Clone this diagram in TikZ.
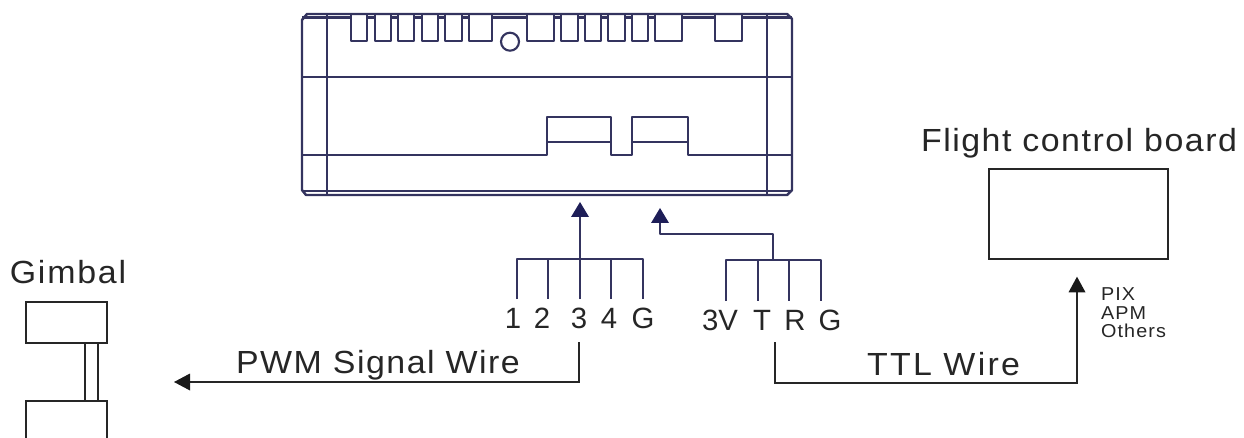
\documentclass[tikz,border=0pt]{standalone}
\usepackage{fontspec}
\setmainfont{Liberation Sans}
\newfontfamily\wideA[FakeStretch=1.06,LetterSpace=4.7]{Liberation Sans}
\newfontfamily\wideB[FakeStretch=1.06,LetterSpace=5.6]{Liberation Sans}
\newfontfamily\wideC[FakeStretch=1.06,LetterSpace=7]{Liberation Sans}
\newfontfamily\wideS[FakeStretch=1.06,LetterSpace=6]{Liberation Sans}
\definecolor{dev}{HTML}{34345F}
\definecolor{tipc}{HTML}{1E1E58}
\tikzset{x=0.75pt,y=-0.75pt,
 devl/.style={draw=dev,line width=1.85pt,line join=round},
 blk/.style={draw=black!85,line width=1.6pt,line join=miter},
 lab/.style={anchor=base,inner sep=0pt,outer sep=0pt,text=black!85},
 tiptri/.style={fill=tipc,draw=none}}
\begin{document}
\begin{tikzpicture}
\useasboundingbox (0,0) rectangle (1244,438);
% device outline
\draw[devl] (302,20) -- (302,190) -- (306,195) -- (787,195) -- (792,190) -- (792,19) -- (787,14) -- (307,14) -- cycle;
\draw[devl] (302,17.5) -- (351,17.5) (367,17.5) -- (375,17.5) (391,17.5) -- (398,17.5) (414,17.5) -- (422,17.5) (438,17.5) -- (445,17.5) (462,17.5) -- (469,17.5)
 (492,17.5) -- (527,17.5) (554,17.5) -- (561,17.5) (578,17.5) -- (585,17.5) (601,17.5) -- (608,17.5) (625,17.5) -- (632,17.5) (648,17.5) -- (655,17.5) (682,17.5) -- (715,17.5) (742,17.5) -- (792,17.5);
\draw[devl] (302,191) -- (792,191);
\draw[devl] (327,14) -- (327,195) (767,14) -- (767,195);
\draw[devl] (302,77) -- (792,77);
% teeth
\foreach \a/\b in {351/367,375/391,398/414,422/438,445/462,469/492,527/554,561/578,585/601,608/625,632/648,655/682,715/742}
  \draw[devl] (\a,14) -- (\a,41) -- (\b,41) -- (\b,14);
\node[circle,draw=dev,line width=1.6pt,minimum size=13.5pt,inner sep=0pt] (hole) at (510,41.7) {};
% lower profile
\draw[devl] (302,155) -- (547,155) -- (547,117) -- (611,117) -- (611,155) -- (632,155) -- (632,117) -- (688,117) -- (688,155) -- (792,155);
\draw[devl] (547,142) -- (611,142) (632,142) -- (688,142);
% PWM bus
\coordinate (b1) at (517,259); \coordinate (b5) at (643,259);
\draw[devl] (517,299) -- (b1) -- (b5) -- (643,299);
\draw[devl] (548,259) -- (548,299) (611,259) -- (611,299);
\coordinate (tipA) at (580,202);
\draw[devl] (580,299) -- (580,216);
\fill[tiptri] (tipA) -- (589,217) -- (571,217) -- cycle;
% TTL bus
\draw[devl] (726,301) -- (726,260) -- (821,260) -- (821,301);
\draw[devl] (758,260) -- (758,301) (789,260) -- (789,301);
\coordinate (tipB) at (660,208);
\draw[devl] (773,260) -- (773,234) -- (660,234) -- (660,222);
\fill[tiptri] (tipB) -- (669,223) -- (651,223) -- cycle;
% pin labels
\foreach \x/\t in {513/1,542/2,579/3,609/4,643/G}
  \node[lab,font=\fontsize{22}{22}\selectfont] (p\t) at (\x,328) {\t};
\foreach \x/\t/\n in {720/3V/a,762/T/b,795/R/c,830/G/d}
  \node[lab,font=\fontsize{22}{22}\selectfont] (q\n) at (\x,330) {\t};
% PWM wire
\coordinate (pw) at (579,342);
\draw[blk] (pw) -- (579,382) -- (189,382);
\fill[black!90] (174,382) -- (190,373.5) -- (190,390.5) -- cycle;
\node[lab,font=\wideA\fontsize{24}{24}\selectfont] (pwm) at (378,373) {PWM Signal Wire};
% TTL wire
\coordinate (tw) at (775,342);
\draw[blk] (tw) -- (775,383) -- (1077,383) -- (1077,291);
\fill[black!90] (1077,276.7) -- (1085.5,292.3) -- (1068.5,292.3) -- cycle;
\node[lab,font=\wideC\fontsize{24}{24}\selectfont] (ttl) at (943.5,375) {TTL Wire};
% Flight control board
\node[draw=black!85,line width=1.6pt,minimum width=134pt,minimum height=68pt,inner sep=0pt] (fc) at (1078.4,214) {};
\node[lab,font=\wideA\fontsize{24}{24}\selectfont] (fct) at (1079,152) {Flight control board};
\node[lab,font=\wideS\fontsize{14}{14}\selectfont,anchor=base west] (pix) at (1101,300) {PIX};
\node[lab,font=\wideS\fontsize{14}{14}\selectfont,anchor=base west] (apm) at (1101,319) {APM};
\node[lab,font=\wideS\fontsize{14}{14}\selectfont,anchor=base west] (oth) at (1101,337) {Others};
% Gimbal
\node[lab,font=\wideB\fontsize{24}{24}\selectfont] (gt) at (68,283) {Gimbal};
\draw[blk] (26,302) rectangle (107,343);
\draw[blk] (85,343) -- (85,401) (98,343) -- (98,401);
\draw[blk] (26,438) -- (26,401) -- (107,401) -- (107,438);
\end{tikzpicture}
\end{document}
